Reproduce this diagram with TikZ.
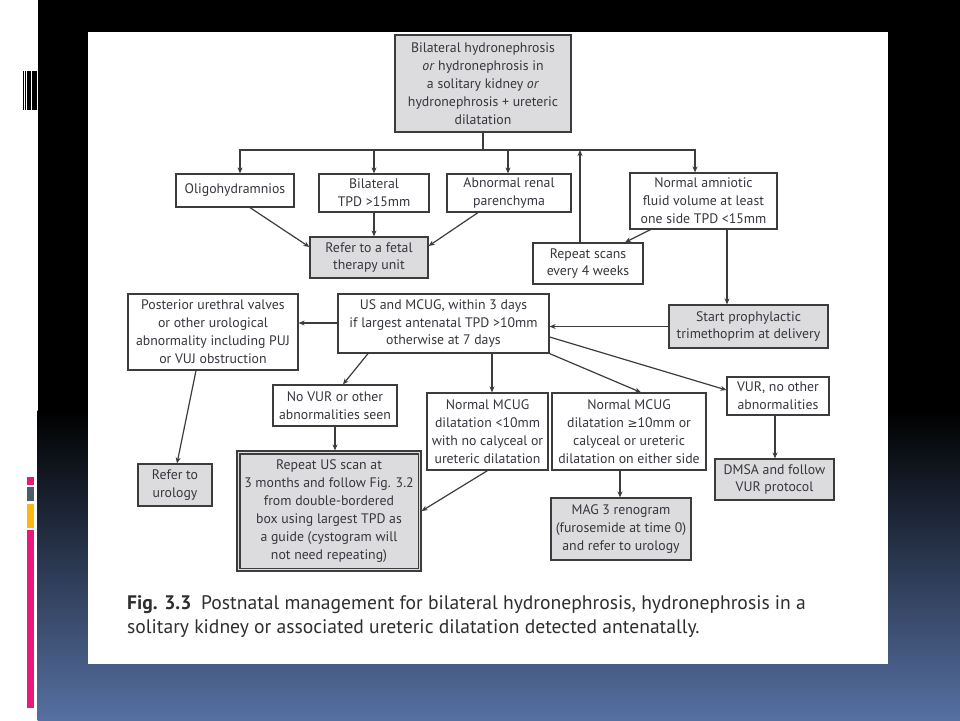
\documentclass[tikz,border=0pt]{standalone}
\usepackage{fontspec}
\setmainfont{PT Sans}
\newfontfamily\symf{DejaVu Sans}
\usetikzlibrary{arrows.meta}
\definecolor{boxgray}{HTML}{DCDCDE}
\definecolor{ink}{HTML}{36363E}
\definecolor{linec}{HTML}{3C3C3C}
\definecolor{slideblue}{RGB}{86,112,162}
\definecolor{pinkbar}{RGB}{232,25,122}
\definecolor{graybar}{RGB}{77,91,107}
\definecolor{yellowbar}{RGB}{253,184,19}
\newcommand{\geqsym}{{\symf\fontsize{12}{17}\selectfont ≥}}
\begin{document}
\begin{tikzpicture}[x=1pt,y=-1pt,
  box/.style={draw=linec, line width=1.2pt, fill=white, text=ink, align=center, inner sep=0pt,
    font=\fontsize{13.8}{17.9}\selectfont},
  gbox/.style={box, fill=boxgray},
  arr/.style={draw=linec, line width=1.2pt, -{Stealth[length=6pt,width=5pt]}},
  ln/.style={draw=linec, line width=1.2pt}]
% slide background
\useasboundingbox (0,0) rectangle (960,720);
\fill[white] (0,0) rectangle (960,720);
\fill[black] (37.5,0) rectangle (960,720);
\shade[top color=black, bottom color=slideblue] (37.5,410) rectangle (960,720);
\fill[black] (22.7,71) rectangle (24,110);
\fill[black] (25,71) rectangle (26.3,110);
\fill[black] (27.3,71) rectangle (30.7,110);
\fill[black] (31.7,71) rectangle (36.7,110);
\fill[pinkbar] (26.7,477) rectangle (34,485);
\fill[graybar] (26.7,487) rectangle (34,500.7);
\fill[yellowbar] (26.7,504) rectangle (34,528);
\fill[pinkbar] (26.7,530) rectangle (34,708);
% white panel
\fill[white] (88,32) rectangle (888,664);

% nodes
\node[gbox, minimum width=176pt, minimum height=97pt] (top) at (483,83.5)
  {Bilateral hydronephrosis\\ \textit{or} hydronephrosis in\\ a solitary kidney \textit{or}\\ hydronephrosis + ureteric\\ dilatation};
\node[box, minimum width=118pt, minimum height=33pt] (oligo) at (235,190.5) {Oligohydramnios};
\node[box, minimum width=110pt, minimum height=38pt] (bilat) at (374,193) {Bilateral\\ TPD >15mm};
\node[box, minimum width=124pt, minimum height=38pt] (abn) at (509,193) {Abnormal renal\\ parenchyma};
\node[box, minimum width=147pt, minimum height=56pt] (normamn) at (703.5,201) {Normal amniotic\\ fluid volume at least\\ one side TPD <15mm};
\node[gbox, minimum width=118pt, minimum height=41pt] (fetal) at (369,257.5) {Refer to a fetal\\ therapy unit};
\node[box, minimum width=110pt, minimum height=41pt] (rep4) at (588,263.5) {Repeat scans\\ every 4 weeks};
\node[gbox, minimum width=159pt, minimum height=43pt] (start) at (748.5,326.5) {Start prophylactic\\ trimethoprim at delivery};
\node[box, minimum width=211pt, minimum height=59pt] (us) at (443.5,323.5) {US and MCUG, within 3 days\\ if largest antenatal TPD >10mm\\ otherwise at 7 days};
\node[box, minimum width=170pt, minimum height=76pt] (post) at (213,332) {Posterior urethral valves\\ or other urological\\ abnormality including PUJ\\ or VUJ obstruction};
\node[gbox, minimum width=74pt, minimum height=42pt] (urol) at (175,485) {Refer to\\ urology};
\node[box, minimum width=124pt, minimum height=41pt] (novur) at (335,405.5) {No VUR or other\\ abnormalities seen};
\node[gbox, minimum width=184pt, minimum height=120pt] (repus) at (329,511) {Repeat US scan at\\ 3 months and follow Fig. 3.2\\ from double-bordered\\ box using largest TPD as\\ a guide (cystogram will\\ not need repeating)};
\draw[ln] ([shift={(3.5pt,-3.5pt)}]repus.north west) rectangle ([shift={(-3.5pt,3.5pt)}]repus.south east);
\node[box, minimum width=121pt, minimum height=77pt] (nm1) at (487.5,431.5) {Normal MCUG\\ dilatation <10mm\\ with no calyceal or\\ ureteric dilatation};
\node[box, minimum width=154pt, minimum height=77pt] (nm2) at (629,431.5) {Normal MCUG\\ dilatation \geqsym10mm or\\ calyceal or ureteric\\ dilatation on either side};
\node[box, minimum width=102pt, minimum height=38pt] (vur) at (778,396) {VUR, no other\\ abnormalities};
\node[gbox, minimum width=119pt, minimum height=41pt] (dmsa) at (774.5,479.5) {DMSA and follow\\ VUR protocol};
\node[gbox, minimum width=140pt, minimum height=62pt] (mag3) at (621,529) {MAG 3 renogram\\ (furosemide at time 0)\\ and refer to urology};

% caption
\node[anchor=north west, align=left, inner sep=0pt, text=black!82, font=\fontsize{19.6}{24.5}\selectfont] (cap) at (127,595)
  {\textbf{Fig. 3.3}\enspace Postnatal management for bilateral hydronephrosis, hydronephrosis in a\\ solitary kidney or associated ureteric dilatation detected antenatally.};

% connectors
\coordinate (bus) at (483,150);
\draw[ln] (top.south) -- (bus);
\draw[arr] (bus) -| ([xshift=5pt]oligo.north);
\draw[arr] (bus) -| (bilat.north);
\draw[arr] (bus) -| ([xshift=-1pt]abn.north);
\draw[arr] (bus) -| ([xshift=-8.5pt]normamn.north);
\draw[arr] ([xshift=-8pt]rep4.north) -- ([xshift=-8pt]rep4.north |- bus);
\draw[arr] ([xshift=15pt]oligo.south) -- ([yshift=10.5pt]fetal.west);
\draw[arr] (bilat.south) -- (bilat.south |- fetal.north);
\draw[arr] ([xshift=-31pt]abn.south) -- ([yshift=11.5pt]fetal.east);
\draw[arr] ([xshift=-53pt]normamn.south) -- ([xshift=37pt]rep4.north);
\draw[arr] ([xshift=23.5pt]normamn.south) -- ([xshift=23.5pt]normamn.south |- start.north);
\draw[arr] (start.west) -- (start.west -| us.east);
\draw[arr] ([yshift=0.5pt]us.west) -- ([yshift=0.5pt]us.west -| post.east);
\draw[arr] ([xshift=-17pt]post.south) -- ([xshift=2pt]urol.north);
\draw[arr] ([xshift=-75.5pt]us.south) -- ([xshift=8pt]novur.north);
\draw[arr] (novur.south) -- (novur.south |- repus.north);
\draw[arr] ([xshift=48.5pt]us.south) -- ([xshift=48.5pt]us.south |- nm1.north);
\draw[arr] (nm1.south) -- (repus.east);
\draw[arr] (us.south east) -- ([xshift=12pt]nm2.north);
\draw[arr] ([yshift=-13.5pt]us.east) -- ([yshift=6pt]vur.west);
\draw[arr] ([xshift=-3pt]vur.south) -- ([xshift=-3pt]vur.south |- dmsa.north);
\draw[arr] ([xshift=-9pt]nm2.south) -- ([xshift=-9pt]nm2.south |- mag3.north);
\end{tikzpicture}
\end{document}
